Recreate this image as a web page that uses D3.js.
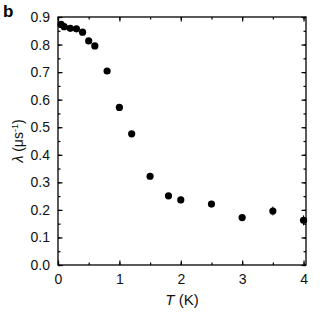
<!DOCTYPE html>
<html>
<head>
<meta charset="utf-8">
<script src="https://cdn.jsdelivr.net/npm/d3@7"></script>
<style>
  body { margin: 0; background: #fff; }
  svg { display: block; font-family: "Liberation Sans", Arial, sans-serif; }
</style>
</head>
<body>
<script>
// temperature (K)
const temps = [0.05, 0.1, 0.2, 0.3, 0.4, 0.5, 0.6, 0.8, 1.0, 1.2, 1.5, 1.8, 2.0, 2.5, 3.0, 3.5, 4.0]
// relaxation rate lambda (us^-1)
const lambdas = [0.873, 0.865, 0.859, 0.857, 0.845, 0.813, 0.795, 0.704, 0.572, 0.476, 0.322, 0.251, 0.236, 0.221, 0.172, 0.196, 0.162]
// error bars
const errs = [0.006, 0.006, 0.006, 0.006, 0.006, 0.006, 0.006, 0.006, 0.006, 0.006, 0.008, 0.01, 0.012, 0.01, 0.01, 0.016, 0.018]

const xTicks = [0, 1, 2, 3, 4]
const yTicks = [0, 0.1, 0.2, 0.3, 0.4, 0.5, 0.6, 0.7, 0.8, 0.9]

const width = 320, height = 320
const margin = {top: 17, right: 14, bottom: 55, left: 58}

const svg = d3.select("body").append("svg")
  .attr("width", width)
  .attr("height", height)

const x = d3.scaleLinear().domain([0, 4.04]).range([margin.left, width - margin.right])
const y = d3.scaleLinear().domain([0, 0.9]).range([height - margin.bottom, margin.top])

const data = temps.map((t, i) => ({t, l: lambdas[i], e: errs[i]}))

// frame
svg.append("rect")
  .attr("x", x.range()[0])
  .attr("y", y.range()[1])
  .attr("width", x.range()[1] - x.range()[0])
  .attr("height", y.range()[0] - y.range()[1])
  .attr("fill", "none")
  .attr("stroke", "#000")
  .attr("stroke-width", 1.3)

const xMinor = d3.range(0, 4.01, 0.5)
const yMinor = d3.range(0, 0.901, 0.05)

function styleAxis(g) {
  g.select(".domain").remove()
  g.selectAll(".tick line").attr("stroke", "#000").attr("stroke-width", 1.2)
  g.selectAll("text").attr("fill", "#111").style("font-size", "14px")
}

// bottom
svg.append("g")
  .attr("transform", `translate(0,${y(0)})`)
  .call(d3.axisBottom(x).tickValues(xMinor).tickSize(-2.5).tickFormat(""))
  .call(styleAxis)
svg.append("g")
  .attr("transform", `translate(0,${y(0)})`)
  .call(d3.axisBottom(x).tickValues(xTicks).tickSize(-4.5).tickPadding(9).tickFormat(d3.format("d")))
  .call(styleAxis)

// top
svg.append("g")
  .attr("transform", `translate(0,${y(0.9)})`)
  .call(d3.axisTop(x).tickValues(xMinor).tickSize(-2.5).tickFormat(""))
  .call(styleAxis)
svg.append("g")
  .attr("transform", `translate(0,${y(0.9)})`)
  .call(d3.axisTop(x).tickValues(xTicks).tickSize(-4.5).tickFormat(""))
  .call(styleAxis)

// left
svg.append("g")
  .attr("transform", `translate(${x(0)},0)`)
  .call(d3.axisLeft(y).tickValues(yMinor).tickSize(-2.5).tickFormat(""))
  .call(styleAxis)
svg.append("g")
  .attr("transform", `translate(${x(0)},0)`)
  .call(d3.axisLeft(y).tickValues(yTicks).tickSize(-4.5).tickPadding(8).tickFormat(d3.format(".1f")))
  .call(styleAxis)

// right
svg.append("g")
  .attr("transform", `translate(${x(4.04)},0)`)
  .call(d3.axisRight(y).tickValues(yMinor).tickSize(-2.5).tickFormat(""))
  .call(styleAxis)
svg.append("g")
  .attr("transform", `translate(${x(4.04)},0)`)
  .call(d3.axisRight(y).tickValues(yTicks).tickSize(-4.5).tickFormat(""))
  .call(styleAxis)

// error bars
svg.append("g").selectAll("line")
  .data(data)
  .join("line")
    .attr("x1", d => x(d.t))
    .attr("x2", d => x(d.t))
    .attr("y1", d => y(d.l - d.e))
    .attr("y2", d => y(d.l + d.e))
    .attr("stroke", "#000")
    .attr("stroke-width", 1)

// points
svg.append("g").selectAll("circle")
  .data(data)
  .join("circle")
    .attr("cx", d => x(d.t))
    .attr("cy", d => y(d.l))
    .attr("r", 3.6)
    .attr("fill", "#000")

// axis titles
svg.append("text")
  .attr("x", (x.range()[0] + x.range()[1]) / 2)
  .attr("y", 305)
  .attr("text-anchor", "middle")
  .style("font-size", "15px")
  .attr("fill", "#111")
  .call(t => {
    t.append("tspan").style("font-style", "italic").text("T")
    t.append("tspan").text(" (K)")
  })

svg.append("text")
  .attr("transform", `translate(23,${(y.range()[0] + y.range()[1]) / 2}) rotate(-90)`)
  .attr("text-anchor", "middle")
  .style("font-size", "14px")
  .attr("fill", "#111")
  .call(t => {
    t.append("tspan").style("font-style", "italic").text("λ")
    t.append("tspan").text(" (μs")
    t.append("tspan").attr("baseline-shift", "super").style("font-size", "9px").text("-1")
    t.append("tspan").text(")")
  })

// panel label
svg.append("text")
  .attr("x", 3)
  .attr("y", 17)
  .style("font-size", "17px")
  .style("font-weight", "bold")
  .attr("fill", "#000")
  .text("b")
</script>
</body>
</html>
